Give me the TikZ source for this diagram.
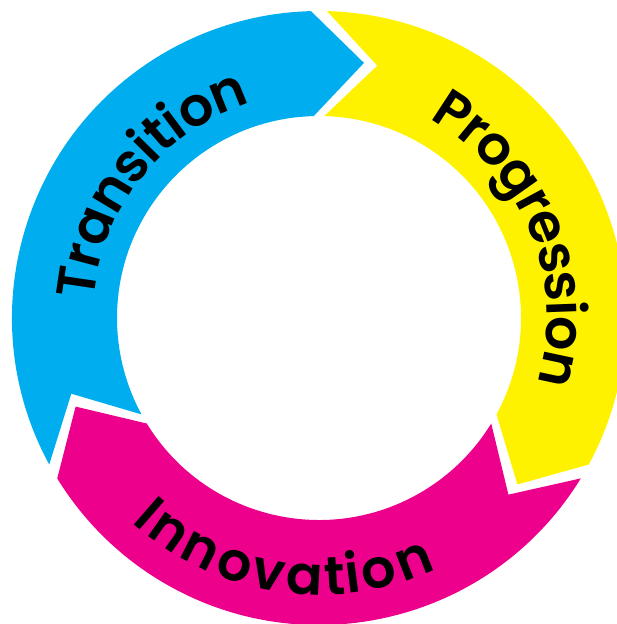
\documentclass[tikz,border=0pt]{standalone}
\usepackage{fontspec}
\setmainfont{Poppins}
\newfontfamily\bandfamily{Poppins SemiBold}
\usetikzlibrary{decorations.text}

\definecolor{cycleblue}{RGB}{0,174,239}
\definecolor{cycleyellow}{RGB}{255,242,0}
\definecolor{cyclemagenta}{RGB}{236,0,140}

\newcommand{\bandfont}{\bandfamily\fontsize{54}{60}\selectfont}

\begin{document}
\begin{tikzpicture}[
        x=1pt, y=1pt,
        bandtext/.style={decorate, decoration={text effects along path, text={#1},
            text effects/.cd, text along path, fit text to path,
            every character/.style={font=\bandfont, inner sep=0pt}}}
    ]

    \useasboundingbox (-319,-306) rectangle (297,318);
    \coordinate (c) at (0,0);

    % Arrows (outer 307, inner 202, tip 259)
    \fill[cycleblue] (c) ++(208.5:307pt) arc[start angle=208.5, end angle=91.5, radius=307pt]
        -- ([shift={(80:259pt)}]c) -- ([shift={(91.5:202pt)}]c)
        arc[start angle=91.5, end angle=208.5, radius=202pt]
        -- ([shift={(197:259pt)}]c) -- cycle;
    \fill[cycleyellow] (c) ++(88.5:307pt) arc[start angle=88.5, end angle=-28.5, radius=307pt]
        -- ([shift={(-40:259pt)}]c) -- ([shift={(-28.5:202pt)}]c)
        arc[start angle=-28.5, end angle=88.5, radius=202pt]
        -- ([shift={(77:259pt)}]c) -- cycle;
    \fill[cyclemagenta] (c) ++(-31.5:307pt) arc[start angle=-31.5, end angle=-148.5, radius=307pt]
        -- ([shift={(-160:259pt)}]c) -- ([shift={(-148.5:202pt)}]c)
        arc[start angle=-148.5, end angle=-31.5, radius=202pt]
        -- ([shift={(-43:259pt)}]c) -- cycle;

    % Labels
    \path[bandtext=Transition] (c) ++(175.5:226pt) arc[start angle=175.5, end angle=107.5, radius=226pt];
    \path[bandtext=Progression] (c) ++(61:228pt) arc[start angle=61, end angle=-16.5, radius=228pt];
    \path[bandtext=Innovation] (c) ++(227.5:277pt) arc[start angle=227.5, end angle=295, radius=277pt];

\end{tikzpicture}
\end{document}
